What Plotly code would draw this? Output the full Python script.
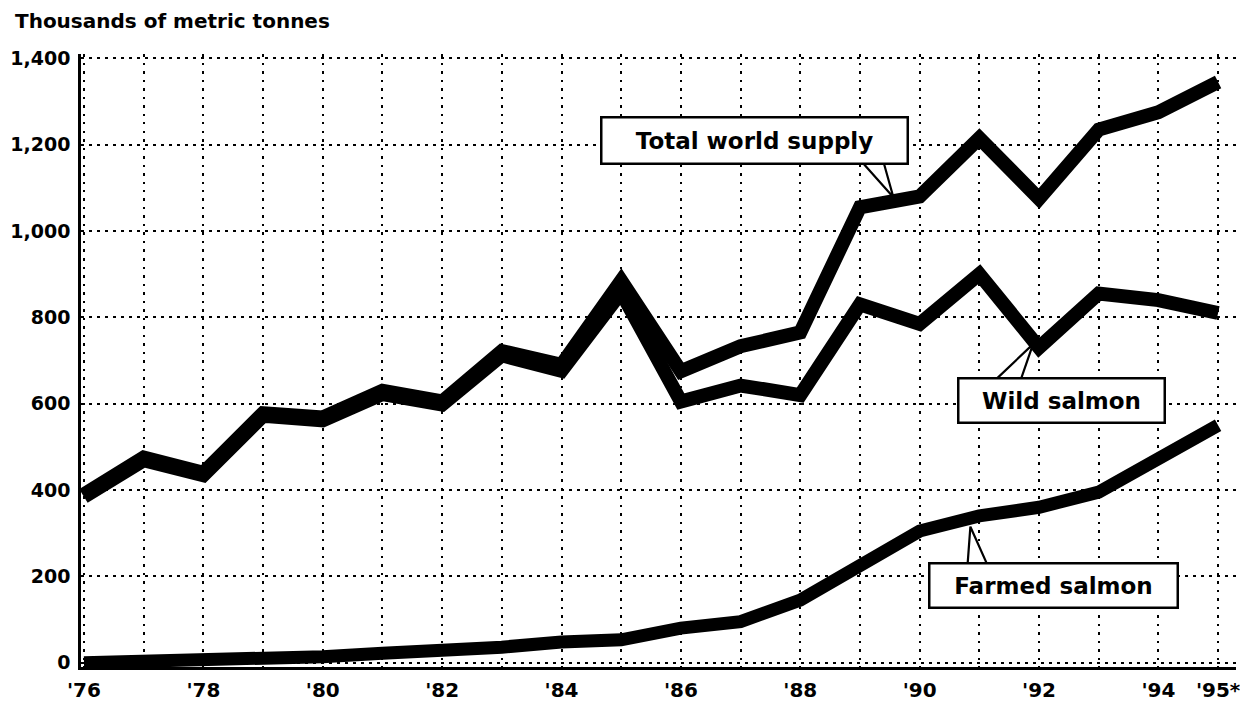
import plotly.graph_objects as go

years = list(range(1976, 1996))
total_supply = [390, 475, 440, 578, 568, 630, 605, 722, 690, 885, 675, 733, 765, 1055, 1080, 1215, 1075, 1235, 1275, 1345]
wild_salmon = [384, 469, 434, 572, 561, 622, 598, 712, 676, 858, 605, 642, 620, 830, 785, 900, 730, 855, 840, 810]
farmed_salmon = [0, 2, 4, 10, 14, 22, 26, 36, 48, 53, 80, 95, 145, 228, 305, 340, 360, 395, 470, 550]

tick_years = [1976, 1978, 1980, 1982, 1984, 1986, 1988, 1990, 1992, 1994, 1995]
tick_text = ["'76", "'78", "'80", "'82", "'84", "'86", "'88", "'90", "'92", "'94", "'95*"]
y_ticks = [0, 200, 400, 600, 800, 1000, 1200, 1400]

FONT = "DejaVu Sans"

fig = go.Figure()
fig.add_trace(go.Scatter(x=years, y=farmed_salmon, mode="lines", name="Farmed salmon",
                         line=dict(color="black", width=13)))
fig.add_trace(go.Scatter(x=years, y=wild_salmon, mode="lines", name="Wild salmon",
                         line=dict(color="black", width=14)))
fig.add_trace(go.Scatter(x=years, y=total_supply, mode="lines", name="Total world supply",
                         line=dict(color="black", width=14)))

# callout labels: (text, box centre x, box centre y, width, height, tail base1, tail base2, tail tip)
callouts = [
    ("Total world supply", 1987.227, 1210, 300, 40, (1989.00, 1165), (1989.39, 1162), (1989.56, 1078)),
    ("Wild salmon", 1992.37, 608, 200, 38, (1991.23, 650), (1991.68, 650), (1991.90, 738)),
    ("Farmed salmon", 1992.24, 178, 242, 38, (1990.80, 222), (1991.15, 222), (1990.85, 315)),
]
for text, cx, cy, w, h, b1, b2, tip in callouts:
    fig.add_shape(type="path", xref="x", yref="y", layer="above",
                  path=f"M {b1[0]},{b1[1]} L {tip[0]},{tip[1]} L {b2[0]},{b2[1]} Z",
                  fillcolor="white", line=dict(color="black", width=2.2))
    fig.add_annotation(x=cx, y=cy, xref="x", yref="y", text=text, showarrow=False,
                       width=w, height=h, bgcolor="white", bordercolor="black",
                       borderwidth=2.5, borderpad=2,
                       font=dict(family=FONT, size=23, color="black", weight="bold"))

fig.add_annotation(x=-0.0589, y=1.076, xref="paper", yref="paper", xanchor="left", yanchor="top",
                   text="Thousands of metric tonnes", showarrow=False,
                   font=dict(family=FONT, size=20, color="black", weight="bold"))

fig.update_layout(
    width=1240, height=698,
    margin=dict(l=73, r=12, t=46, b=39, autoexpand=False),
    paper_bgcolor="white", plot_bgcolor="white",
    showlegend=False,
    xaxis=dict(range=[1975.95, 1995.3], tickvals=tick_years, ticktext=tick_text,
               automargin=False,
               showgrid=True, gridcolor="black", gridwidth=2.4, griddash="2.5px,6px",
               minor=dict(dtick=1, tick0=1976, showgrid=True, gridcolor="black",
                          gridwidth=2.4, griddash="2.5px,6px"),
               showline=True, linecolor="black", linewidth=2.5, zeroline=False,
               ticks="", ticklabelstandoff=3,
               tickfont=dict(family=FONT, size=20, color="black", weight="bold")),
    yaxis=dict(range=[-10, 1410], tickvals=y_ticks, tickformat=",d",
               automargin=False,
               showgrid=True, gridcolor="black", gridwidth=2.4, griddash="3px,5px",
               showline=True, linecolor="black", linewidth=2.5, zeroline=False,
               ticks="", ticklabelstandoff=4,
               tickfont=dict(family=FONT, size=19, color="black", weight="bold")),
)

fig.write_html("out.html")
